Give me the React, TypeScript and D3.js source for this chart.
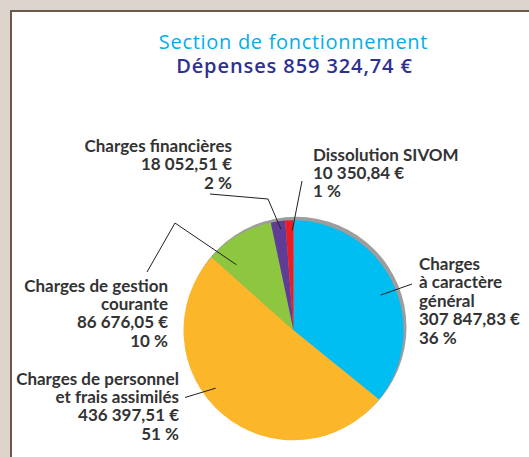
import { useRef, useEffect } from "react";
import * as d3 from "d3";

const categories = [
  "Charges à caractère général",
  "Charges de personnel et frais assimilés",
  "Charges de gestion courante",
  "Charges financières",
  "Dissolution SIVOM",
];
const amounts = [307847.83, 436397.51, 86676.05, 18052.51, 10350.84];
const amountLabels = ["307 847,83 €", "436 397,51 €", "86 676,05 €", "18 052,51 €", "10 350,84 €"];
const percentLabels = ["36 %", "51 %", "10 %", "2 %", "1 %"];
const nameLines = [
  ["Charges", "à caractère", "général"],
  ["Charges de personnel", "et frais assimilés"],
  ["Charges de gestion", "courante"],
  ["Charges financières"],
  ["Dissolution SIVOM"],
];
const sliceColors = ["#00bdf2", "#fbb62a", "#8dc63f", "#5f3d96", "#ed1c24"];

const TITLE = "Section de fonctionnement";
const SUBTITLE = "Dépenses 859 324,74 €";

// label placement: anchor point, alignment, leader (outer bend points + inner polar end)
const labelLayout = [
  { x: 419, y: 270, anchor: "start", bends: [[412, 284]], dAngle: 3.5, r: 94 },
  { x: 179, y: 384.5, anchor: "end", bends: [[185, 397.5]], dAngle: 13, r: 97 },
  { x: 168, y: 291.5, anchor: "end", bends: [[147, 272], [175, 223]], dAngle: -11, r: 87 },
  { x: 232, y: 152, anchor: "end", bends: [[210, 194], [268, 199]], dAngle: 1, r: 102 },
  { x: 313, y: 160.5, anchor: "start", bends: [[302, 181]], dAngle: 1.5, r: 100 },
];

export default function App() {
  const svgRef = useRef<SVGSVGElement>(null);

  useEffect(() => {
    if (!svgRef.current) return;
    const svg = d3.select(svgRef.current);
    svg.selectAll("*").remove();

    const width = 529;
    const height = 457;
    const cx = 293.5;
    const cy = 330.3;
    const radius = 110;
    const labelFont = "Lato, 'Open Sans', sans-serif";
    const titleFont = "'Open Sans', Lato, sans-serif";

    // frame
    svg.append("rect").attr("width", width).attr("height", height).attr("fill", "#ddd4ce");
    svg.append("rect").attr("x", 11).attr("y", 11).attr("width", width).attr("height", height).attr("fill", "#fff");
    svg.append("rect").attr("x", 10).attr("y", 10).attr("width", width).attr("height", 2).attr("fill", "#6d5849");
    svg.append("rect").attr("x", 10).attr("y", 10).attr("width", 2).attr("height", height).attr("fill", "#6d5849");

    // titles
    svg.append("text")
      .attr("x", cx).attr("y", 48.5)
      .attr("text-anchor", "middle")
      .attr("font-family", titleFont).attr("font-size", 20)
      .attr("letter-spacing", 0.7)
      .attr("fill", "#00aeef")
      .text(TITLE);
    svg.append("text")
      .attr("x", cx + 1).attr("y", 73)
      .attr("text-anchor", "middle")
      .attr("font-family", titleFont).attr("font-size", 20).attr("font-weight", 600)
      .attr("letter-spacing", 0.9)
      .attr("fill", "#2e3192")
      .text(SUBTITLE);

    const pie = d3.pie<number>().sort(null).value((d) => d);
    const arcs = pie(amounts);
    const arc = d3.arc<d3.PieArcDatum<number>>().innerRadius(0).outerRadius(radius);

    // shadow
    svg.append("circle")
      .attr("cx", cx + 2.5).attr("cy", cy - 3)
      .attr("r", radius + 0.5)
      .attr("fill", "#9d9d9d");

    const g = svg.append("g").attr("transform", `translate(${cx},${cy})`);
    g.selectAll("path")
      .data(arcs)
      .enter()
      .append("path")
      .attr("d", arc)
      .attr("fill", (_, i) => sliceColors[i])
      .append("title")
      .text((d, i) => `${categories[i]}: ${amountLabels[i]}`);

    // leader lines
    const line = d3.line();
    arcs.forEach((a, i) => {
      const L = labelLayout[i];
      const ang = (a.startAngle + a.endAngle) / 2 + (L.dAngle * Math.PI) / 180;
      const inner: [number, number] = [cx + L.r * Math.sin(ang), cy - L.r * Math.cos(ang)];
      const pts = [...(L.bends as [number, number][]), inner];
      svg.append("path")
        .attr("d", line(pts))
        .attr("fill", "none")
        .attr("stroke", "#231f20")
        .attr("stroke-width", 1);
    });

    // labels
    const lh = 18.4;
    labelLayout.forEach((L, i) => {
      const lines = [...nameLines[i], amountLabels[i], percentLabels[i]];
      const t = svg.append("text")
        .attr("font-family", labelFont)
        .attr("font-size", 17)
        .attr("font-weight", 700)
        .attr("fill", "#333333")
        .attr("text-anchor", L.anchor);
      lines.forEach((s, j) => {
        t.append("tspan").attr("x", L.x).attr("y", L.y + j * lh).text(s);
      });
    });
  }, []);

  return (
    <svg
      ref={svgRef}
      width={529}
      height={457}
      style={{ position: "absolute", left: 0, top: 0 }}
    />
  );
}
